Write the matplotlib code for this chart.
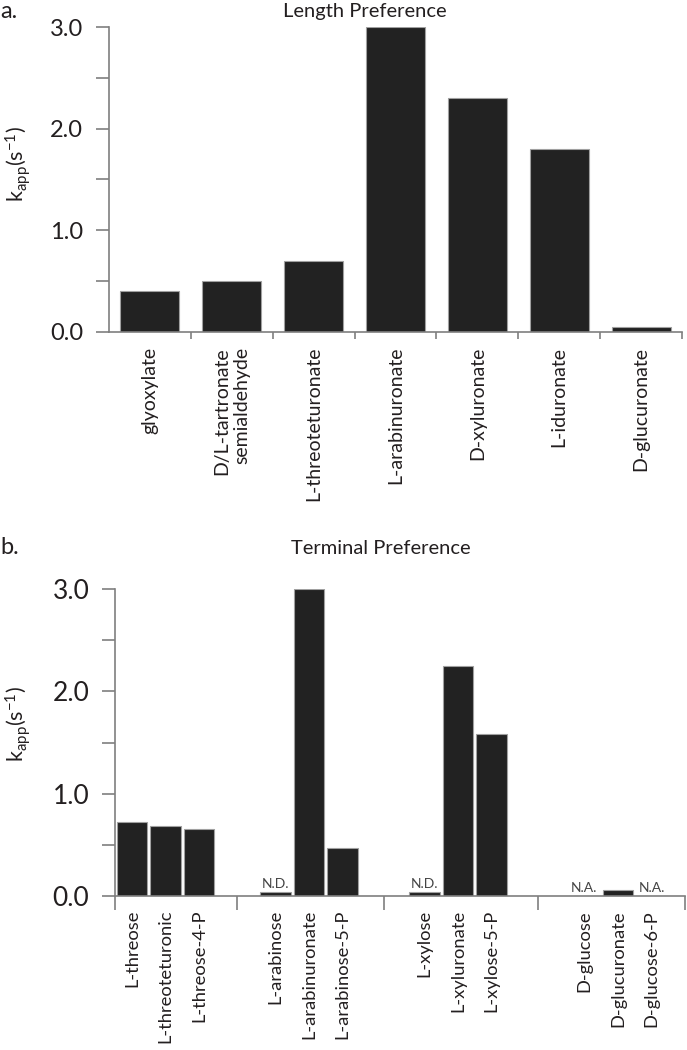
import matplotlib
matplotlib.use("Agg")
import matplotlib.pyplot as plt
import numpy as np

plt.rcParams['font.family'] = ['Lato', 'DejaVu Sans']
plt.rcParams['mathtext.fontset'] = 'custom'
plt.rcParams['mathtext.rm'] = 'Lato'
plt.rcParams['mathtext.it'] = 'Lato'

# ---------------- data ----------------
length_labels = ["glyoxylate", "D/L-tartronate\nsemialdehyde", "L-threoteturonate",
                 "L-arabinuronate", "D-xyluronate", "L-iduronate", "D-glucuronate"]
length_values = [0.40, 0.50, 0.70, 3.00, 2.30, 1.80, 0.05]

terminal_groups = [
    ["L-threose", "L-threoteturonic", "L-threose-4-P"],
    ["L-arabinose", "L-arabinuronate", "L-arabinose-5-P"],
    ["L-xylose", "L-xyluronate", "L-xylose-5-P"],
    ["D-glucose", "D-glucuronate", "D-glucose-6-P"],
]
terminal_values = [
    [0.72, 0.68, 0.65],
    [0.04, 3.00, 0.47],
    [0.04, 2.25, 1.58],
    [np.nan, 0.06, np.nan],
]
terminal_notes = [
    ["", "", ""],
    ["N.D.", "", ""],
    ["N.D.", "", ""],
    ["N.A.", "", "N.A."],
]

yticks_major = [0.0, 1.0, 2.0, 3.0]
ytick_labels = ["0.0", "1.0", "2.0", "3.0"]
yticks_minor = [0.5, 1.5, 2.5]

# ---------------- style ----------------
W, H = 687, 1050
TXT = '#231f20'
SPINE = '#7f7f7f'
BAR = '#222222'
EDGE = '#a0a0a0'
YLABEL = r'k$_{\mathregular{app}}$(s$^{\mathregular{-1}}$)'

fig = plt.figure(figsize=(W / 100, H / 100), dpi=100)


def style_axis(ax, ylab_size, xlab_size, xpad):
    for s in ['top', 'right']:
        ax.spines[s].set_visible(False)
    for s in ['left', 'bottom']:
        ax.spines[s].set_color(SPINE)
        ax.spines[s].set_linewidth(1.2)
    ax.set_ylim(0, 3.0)
    ax.set_yticks(yticks_major, ytick_labels)
    ax.set_yticks(yticks_minor, minor=True)
    ax.tick_params(axis='y', which='both', direction='out', length=9.5, width=1.2,
                   color=SPINE, pad=9, labelsize=ylab_size, labelcolor=TXT)
    ax.tick_params(axis='x', which='major', length=0, pad=xpad, labelsize=xlab_size,
                   labelcolor=TXT)


# ---------------- panel a ----------------
axA = fig.add_axes([109 / W, 1 - 331.7 / H, 573 / W, 304.7 / H])
xa = np.arange(len(length_values))
axA.bar(xa, length_values, width=0.72, color=BAR, edgecolor=EDGE, linewidth=0.8, zorder=2)
axA.set_xlim(-0.5, len(length_values) - 0.5)
style_axis(axA, 17, 14, 11)
axA.set_xticks(xa, length_labels, rotation=90, multialignment='right')
axA.set_xticks(xa + 0.5, minor=True)
axA.tick_params(axis='x', which='minor', direction='out', length=5, width=1.2, color=SPINE)

fig.text(18 / W, 1 - 164 / H, YLABEL, rotation=90,
         ha='center', va='center', fontsize=15.5, color=TXT)
fig.text(365 / W, 1 - 11 / H, 'Length Preference', ha='center', va='center',
         fontsize=14.5, color=TXT)
fig.text(0.0, 1 - 11 / H, 'a.', ha='left', va='center', fontsize=17, color=TXT)

# ---------------- panel b ----------------
axB = fig.add_axes([115 / W, 1 - 896 / H, 570 / W, 307 / H])
group_starts = [0.0, 4.27, 8.72, 13.48]   # layout: positions of first bar in each group
pos, vals, labs, notes = [], [], [], []
for g, start in enumerate(group_starts):
    for i in range(len(terminal_groups[g])):
        pos.append(start + i)
        vals.append(terminal_values[g][i])
        labs.append(terminal_groups[g][i])
        notes.append(terminal_notes[g][i])
pos = np.array(pos)
vals_arr = np.array(vals, dtype=float)
axB.bar(pos, np.nan_to_num(vals_arr), width=0.91, color=BAR, edgecolor=EDGE,
        linewidth=0.8, zorder=2)
for p, v, n in zip(pos, vals_arr, notes):
    if n:
        base = 0.0 if np.isnan(v) else v
        axB.text(p, base + 0.02, n, ha='center', va='bottom', fontsize=10, color='#444444')

bounds = [group_starts[0] - 0.5]
for g in range(1, len(group_starts)):
    bounds.append((group_starts[g - 1] + 2 + group_starts[g]) / 2)
bounds.append(group_starts[-1] + 2 + 1.0)
axB.set_xlim(bounds[0] - 0.01, bounds[-1])
style_axis(axB, 19, 13.2, 10)
axB.set_xticks(pos, labs, rotation=90)
axB.set_xticks(bounds, minor=True)
axB.tick_params(axis='x', which='minor', direction='out', length=10, width=1.2, color=SPINE)

fig.text(18 / W, 1 - 724 / H, YLABEL, rotation=90,
         ha='center', va='center', fontsize=15.5, color=TXT)
fig.text(381 / W, 1 - 548 / H, 'Terminal Preference', ha='center', va='center',
         fontsize=14.5, color=TXT)
fig.text(0.0, 1 - 548 / H, 'b.', ha='left', va='center', fontsize=17, color=TXT)

fig.savefig('out.png', dpi=100)
